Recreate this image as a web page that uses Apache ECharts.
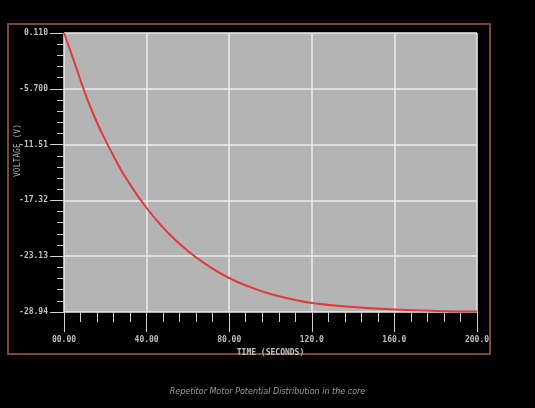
<!DOCTYPE html>
<html>
<head>
<meta charset="utf-8">
<script src="https://cdn.jsdelivr.net/npm/echarts@6/dist/echarts.min.js"></script>
<style>
  html, body { margin: 0; padding: 0; background: #000; }
  #container { width: 535px; height: 408px; }
</style>
</head>
<body>
<div id="container"></div>
<script>
// time (s) and voltage
const timeData = [0, 5, 10, 15, 20, 25, 30, 40, 50, 60, 70, 80, 90, 100, 110, 120, 140, 160, 180, 200];
const voltData = [0.11, -2.91, -6.03, -8.74, -11.03, -13.11, -14.99, -18.11, -20.61, -22.59,
                  -24.15, -25.40, -26.33, -27.06, -27.58, -28.0, -28.42, -28.68, -28.83, -28.89];
const xLabels = ['00.00', '40.00', '80.00', '120.0', '160.0', '200.0'];
const yLabels = ['-28.94', '-23.13', '-17.32', '-11.51', '-5.700', '0.110'];

let dom = document.getElementById('container');
let myChart = echarts.init(dom);

let labelStyle = { color: '#c0c0c0', fontSize: 8, fontFamily: 'DejaVu Sans Mono', fontWeight: 'bold' };

let option = {
    backgroundColor: '#000',
    animation: false,
    graphic: [
        {
            type: 'rect',
            shape: { x: 8, y: 24, width: 482, height: 330 },
            style: { fill: 'none', stroke: '#7a4a36', lineWidth: 2 }
        },
        {
            type: 'text',
            left: 'center',
            top: 388,
            style: {
                text: 'Repetitor Motor Potential Distribution in the core',
                fill: '#9a9aa8', fontSize: 8, fontStyle: 'italic',
                fontFamily: 'DejaVu Sans'
            }
        }
    ],
    grid: {
        left: 64, right: 58, top: 33, bottom: 96,
        outerBoundsMode: 'none', containLabel: false,
        show: true, backgroundColor: '#b4b4b4', borderWidth: 0
    },
    xAxis: {
        type: 'value',
        min: 0,
        max: 200,
        interval: 40,
        name: 'TIME (SECONDS)',
        nameLocation: 'middle',
        nameGap: 36,
        nameTextStyle: { color: '#c0c0c0', fontSize: 8, fontFamily: 'DejaVu Sans Mono', fontWeight: 'bold' },
        axisLine: { show: false, onZero: false },
        axisTick: { show: true, length: 20, lineStyle: { color: '#d0d0d0', width: 1 } },
        minorTick: { show: true, splitNumber: 5, length: 10, lineStyle: { color: '#d0d0d0', width: 1 } },
        axisLabel: Object.assign({ margin: 24, formatter: (v, i) => xLabels[i] }, labelStyle),
        splitLine: { show: true, lineStyle: { color: '#ececec', width: 1.5 } }
    },
    yAxis: {
        type: 'value',
        min: -28.94,
        max: 0.11,
        interval: 5.81,
        name: 'VOLTAGE (V)',
        nameLocation: 'middle',
        nameGap: 42,
        nameMoveOverlap: false,
        nameRotate: 90,
        nameTextStyle: { color: '#a8a8a8', fontSize: 8, fontFamily: 'DejaVu Sans Mono', padding: [0, 0, 0, 44] },
        axisLine: { show: false, onZero: false },
        axisTick: { show: true, length: 14, lineStyle: { color: '#d0d0d0', width: 1 } },
        minorTick: { show: true, splitNumber: 5, length: 7, lineStyle: { color: '#d0d0d0', width: 1 } },
        axisLabel: Object.assign({ margin: 16, formatter: (v, i) => yLabels[i] !== undefined ? yLabels[i] : '' }, labelStyle),
        splitLine: { show: true, lineStyle: { color: '#ececec', width: 1.5 } }
    },
    series: [
        {
            type: 'line',
            data: timeData.map((t, i) => [t, voltData[i]]),
            smooth: true,
            showSymbol: false,
            lineStyle: { color: '#e03a3a', width: 2 }
        }
    ]
};
myChart.setOption(option);
</script>
</body>
</html>
